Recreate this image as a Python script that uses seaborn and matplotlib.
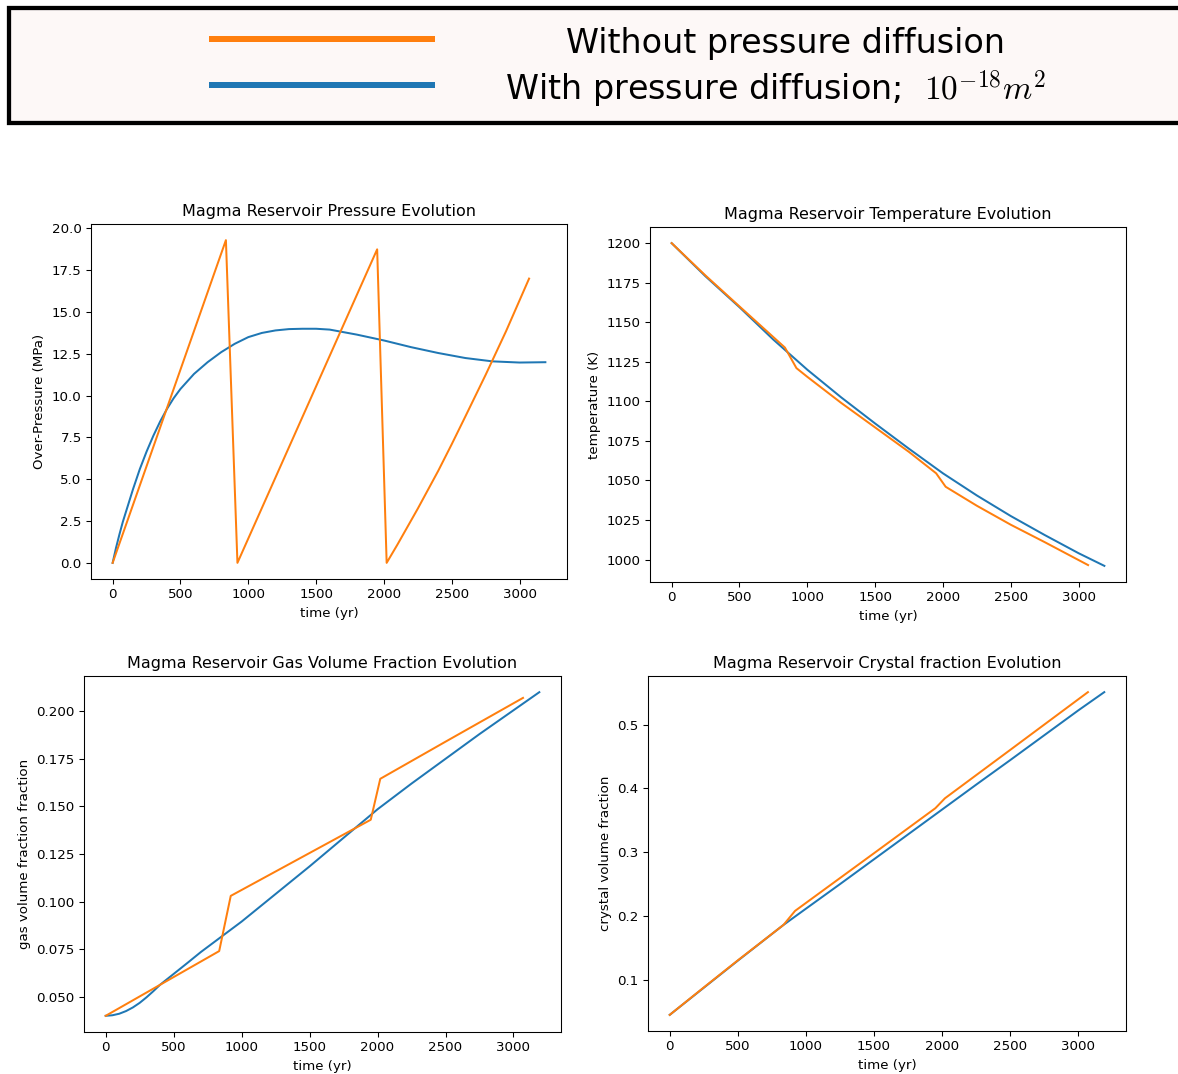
import numpy as np
import pandas as pd
import matplotlib
matplotlib.use("Agg")
import matplotlib.pyplot as plt
from matplotlib.lines import Line2D
from matplotlib.patches import Rectangle
import seaborn as sns

# ---------------- data ----------------
SERIES_LABELS = ["Without pressure diffusion", "With pressure diffusion;  $10^{-18}m^2$"]
COLOR_NO_DIFF = "#ff7f0e"
COLOR_DIFF = "#1f77b4"

# Pressure (MPa)
t_p_diff = [0, 25, 50, 75, 100, 150, 200, 250, 300, 350, 400, 450, 500, 600, 700, 800, 900,
            1000, 1100, 1200, 1300, 1400, 1500, 1600, 1800, 2000, 2200, 2400, 2600, 2800,
            3000, 3190]
p_diff = [0.0, 0.9, 1.7, 2.45, 3.1, 4.4, 5.6, 6.65, 7.6, 8.45, 9.2, 9.85, 10.4, 11.3, 12.0,
          12.6, 13.1, 13.5, 13.75, 13.9, 13.98, 14.0, 14.0, 13.95, 13.65, 13.3, 12.9, 12.55,
          12.25, 12.05, 11.98, 12.0]
t_p_nodiff = [0, 835, 920, 1950, 2020, 2100, 2250, 2400, 2500, 2600, 2750, 2900, 3070]
p_nodiff = [0.0, 19.3, 0.0, 18.75, 0.0, 1.1, 3.25, 5.5, 7.1, 8.75, 11.25, 13.85, 17.0]

# Temperature (K)
t_T_diff = [0, 250, 500, 750, 1000, 1250, 1500, 1750, 2000, 2250, 2500, 2750, 3000, 3190]
T_diff = [1200, 1179, 1159.5, 1139, 1120, 1102.5, 1086, 1070, 1054.5, 1040.5, 1027.5, 1015.5,
          1004, 996]
t_T_nodiff = [0, 250, 500, 835, 920, 1000, 1250, 1500, 1750, 1950, 2020, 2250, 2500, 2750, 3070]
T_nodiff = [1200, 1179.5, 1160, 1134, 1121, 1115.5, 1099, 1083.5, 1068, 1054.5, 1046, 1034,
            1022, 1011, 996.5]

# Gas volume fraction
t_g_diff = [0, 50, 100, 150, 200, 250, 300, 350, 400, 500, 600, 700, 850, 1000, 1250, 1500,
            1750, 2000, 2250, 2500, 2750, 3000, 3190]
g_diff = [0.0400, 0.0403, 0.0411, 0.0425, 0.0444, 0.0468, 0.0497, 0.0529, 0.0563, 0.0620,
          0.0677, 0.0735, 0.0815, 0.0895, 0.1040, 0.1185, 0.1335, 0.1485, 0.1620, 0.1750,
          0.1880, 0.2005, 0.2100]
t_g_nodiff = [0, 835, 920, 1950, 2020, 2500, 3070]
g_nodiff = [0.040, 0.074, 0.103, 0.143, 0.1645, 0.1840, 0.207]

# Crystal volume fraction
t_c_diff = [0, 250, 500, 835, 1000, 1250, 1500, 1750, 2000, 2250, 2500, 2750, 3000, 3190]
c_diff = [0.045, 0.0875, 0.130, 0.186, 0.2115, 0.250, 0.289, 0.328, 0.367, 0.406, 0.4445,
          0.4835, 0.5225, 0.551]
t_c_nodiff = [0, 250, 500, 835, 920, 1000, 1500, 1950, 2020, 2500, 3070]
c_nodiff = [0.045, 0.088, 0.1305, 0.186, 0.208, 0.2205, 0.2985, 0.369, 0.3845, 0.4605, 0.551]

TITLES = ["Magma Reservoir Pressure Evolution", "Magma Reservoir Temperature Evolution",
          "Magma Reservoir Gas Volume Fraction Evolution", "Magma Reservoir Crystal fraction Evolution"]
YLABELS = ["Over-Pressure (MPa)", "temperature (K)", "gas volume fraction fraction",
           "crystal volume fraction"]
XLABEL = "time (yr)"

# ---------------- figure ----------------
DPI = 96
W, H = 1178, 1074
plt.rcParams["mathtext.fontset"] = "cm"
fig = plt.figure(figsize=(W / DPI, H / DPI), dpi=DPI)

def ax_px(left, top, right, bottom):
    return fig.add_axes([left / W, 1 - bottom / H, (right - left) / W, (bottom - top) / H])

axes = [ax_px(91, 224, 567, 579), ax_px(650, 227, 1126, 582),
        ax_px(84, 676, 561, 1032), ax_px(648, 676, 1126, 1031)]

panels = [
    (t_p_diff, p_diff, t_p_nodiff, p_nodiff),
    (t_T_diff, T_diff, t_T_nodiff, T_nodiff),
    (t_g_diff, g_diff, t_g_nodiff, g_nodiff),
    (t_c_diff, c_diff, t_c_nodiff, c_nodiff),
]

for ax, (td, vd, tn, vn), title, ylab in zip(axes, panels, TITLES, YLABELS):
    sns.lineplot(x=td, y=vd, ax=ax, color=COLOR_DIFF, lw=1.5, estimator=None, sort=False)
    sns.lineplot(x=tn, y=vn, ax=ax, color=COLOR_NO_DIFF, lw=1.5, estimator=None, sort=False)
    ax.set_title(title, fontsize=12)
    ax.set_xlabel(XLABEL, fontsize=10)
    ax.set_ylabel(ylab, fontsize=10)
    ax.set_xticks([0, 500, 1000, 1500, 2000, 2500, 3000])
    ax.tick_params(labelsize=10)

# ---------------- legend box at top ----------------
frame = Rectangle((8.5 / W, 1 - 123 / H), 1.0, 115 / H, transform=fig.transFigure,
                  facecolor="#fdf8f7", edgecolor="black", linewidth=3.2, zorder=0)
fig.add_artist(frame)

fs = 25
em = fs * DPI / 72.0
h1 = Line2D([], [], color=COLOR_NO_DIFF, lw=4.5)
h2 = Line2D([], [], color=COLOR_DIFF, lw=4.5)
leg1 = fig.legend(handles=[h1], labels=[SERIES_LABELS[0]], loc="upper left",
                  bbox_to_anchor=(212 / W, 1 - 24 / H), bbox_transform=fig.transFigure,
                  frameon=False, fontsize=fs, handlelength=220 / em, handletextpad=134 / em,
                  handleheight=1.3, borderpad=0, borderaxespad=0)
leg2 = fig.legend(handles=[h2], labels=[SERIES_LABELS[1]], loc="upper left",
                  bbox_to_anchor=(212 / W, 1 - 68 / H), bbox_transform=fig.transFigure,
                  frameon=False, fontsize=fs, handlelength=220 / em, handletextpad=73 / em,
                  handleheight=1.3, borderpad=0, borderaxespad=0)

fig.savefig("out.png", dpi=DPI)
